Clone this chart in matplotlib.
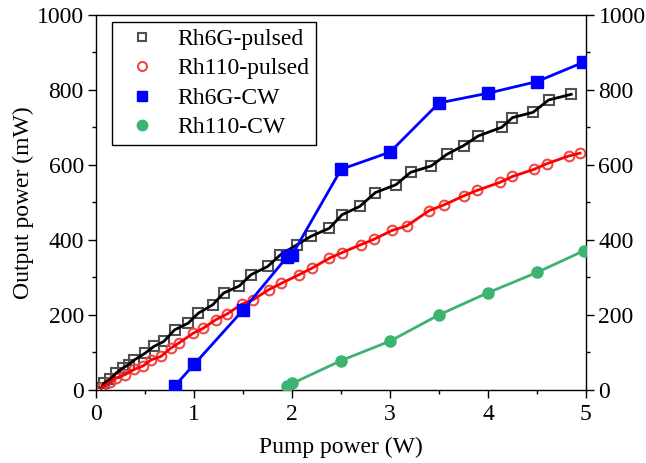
"""
Output power vs pump power for Rh6G / Rh110 dye lasers (pulsed and CW).
"""

import matplotlib
matplotlib.use("Agg")
import matplotlib.pyplot as plt
from matplotlib.lines import Line2D
from matplotlib.ticker import MultipleLocator

# Rh6G pulsed (open squares)
rh6g_pulsed_x = [0.05, 0.08, 0.14, 0.20, 0.27, 0.33, 0.39, 0.50, 0.59, 0.69,
                 0.80, 0.94, 1.04, 1.19, 1.30, 1.46, 1.58, 1.75, 1.88, 2.05,
                 2.19, 2.38, 2.51, 2.69, 2.85, 3.06, 3.21, 3.42, 3.58, 3.75,
                 3.90, 4.14, 4.25, 4.46, 4.62, 4.85]
rh6g_pulsed_y = [5, 18, 28, 44, 58, 67, 80, 98, 116, 129,
                 160, 178, 204, 227, 258, 277, 307, 329, 360, 387,
                 409, 431, 467, 489, 526, 547, 580, 597, 628, 651,
                 677, 700, 726, 740, 773, 788]

# Rh110 pulsed (open circles)
rh110_pulsed_x = [0.05, 0.14, 0.20, 0.29, 0.39, 0.48, 0.56, 0.66, 0.76, 0.85,
                  0.99, 1.09, 1.22, 1.34, 1.49, 1.60, 1.76, 1.89, 2.07, 2.20,
                  2.38, 2.51, 2.70, 2.84, 3.02, 3.17, 3.40, 3.55, 3.75, 3.89,
                  4.12, 4.25, 4.47, 4.60, 4.83, 4.94]
rh110_pulsed_y = [4, 20, 31, 40, 55, 64, 80, 89, 111, 126,
                  151, 164, 187, 203, 229, 240, 267, 284, 307, 324,
                  351, 366, 387, 402, 425, 437, 478, 493, 517, 532,
                  553, 569, 588, 603, 624, 631]

# Rh6G CW (filled squares)
rh6g_cw_x = [0.80, 1.00, 1.50, 1.95, 2.00, 2.50, 3.00, 3.50, 4.00, 4.50, 4.97]
rh6g_cw_y = [10, 68, 213, 355, 360, 588, 634, 765, 791, 822, 873]

# Rh110 CW (filled circles)
rh110_cw_x = [1.95, 2.00, 2.50, 3.00, 3.50, 4.00, 4.50, 4.98]
rh110_cw_y = [10, 17, 78, 130, 200, 259, 313, 371]

GRAY = "#505050"
RED = "#ff0000"
RED_MARK = "#f04848"
BLUE = "#0000ff"
GREEN = "#3cb371"


def main() -> None:
    plt.rcParams["font.family"] = ["Liberation Serif", "DejaVu Serif"]
    plt.rcParams["font.size"] = 17

    fig = plt.figure(figsize=(6.46, 4.63), dpi=100)
    ax = fig.add_axes([0.149, 0.158, 0.758, 0.81])

    # lines
    ax.plot(rh6g_pulsed_x, rh6g_pulsed_y, color="black", lw=2, zorder=3)
    ax.plot(rh110_pulsed_x, rh110_pulsed_y, color=RED, lw=2, zorder=3)
    ax.plot(rh6g_cw_x, rh6g_cw_y, color=BLUE, lw=2, zorder=3)
    ax.plot(rh110_cw_x, rh110_cw_y, color=GREEN, lw=2, zorder=3)

    # markers
    ax.plot(rh6g_pulsed_x, rh6g_pulsed_y, ls="none", marker="s", ms=6.5,
            mfc="none", mec=GRAY, mew=1.5, zorder=2)
    ax.plot(rh110_pulsed_x, rh110_pulsed_y, ls="none", marker="o", ms=7,
            mfc="none", mec=RED_MARK, mew=1.5, zorder=2)
    ax.plot(rh6g_cw_x, rh6g_cw_y, ls="none", marker="s", ms=8,
            color=BLUE, zorder=4)
    ax.plot(rh110_cw_x, rh110_cw_y, ls="none", marker="o", ms=8,
            color=GREEN, zorder=4)

    ax.set_xlim(0, 5)
    ax.set_ylim(0, 1000)
    ax.xaxis.set_major_locator(MultipleLocator(1))
    ax.xaxis.set_minor_locator(MultipleLocator(0.5))
    ax.yaxis.set_major_locator(MultipleLocator(200))
    ax.yaxis.set_minor_locator(MultipleLocator(100))
    ax.tick_params(which="both", direction="out", top=False, right=True,
                   labelright=True, width=1)
    ax.tick_params(which="major", length=5.5)
    ax.tick_params(which="minor", length=3)
    ax.tick_params(axis="x", pad=5)
    for s in ax.spines.values():
        s.set_linewidth(1)

    ax.set_xlabel("Pump power (W)", labelpad=8)
    ax.set_ylabel("Output power (mW)", labelpad=2)

    handles = [
        Line2D([], [], ls="none", marker="s", ms=6, mfc="none", mec=GRAY, mew=1.5),
        Line2D([], [], ls="none", marker="o", ms=6.5, mfc="none", mec=RED_MARK, mew=1.5),
        Line2D([], [], ls="none", marker="s", ms=6.5, color=BLUE),
        Line2D([], [], ls="none", marker="o", ms=7.5, color=GREEN),
    ]
    labels = ["Rh6G-pulsed", "Rh110-pulsed", "Rh6G-CW", "Rh110-CW"]
    leg = ax.legend(handles, labels, loc="upper left",
                    bbox_to_anchor=(0.033, 0.982), frameon=True,
                    fancybox=False, framealpha=1, edgecolor="black",
                    borderpad=0.3, labelspacing=0.33, handlelength=1.9,
                    handletextpad=0.55, borderaxespad=0)
    leg.get_frame().set_linewidth(1)

    fig.savefig("out.png", dpi=100)
    plt.close(fig)


if __name__ == "__main__":
    main()
